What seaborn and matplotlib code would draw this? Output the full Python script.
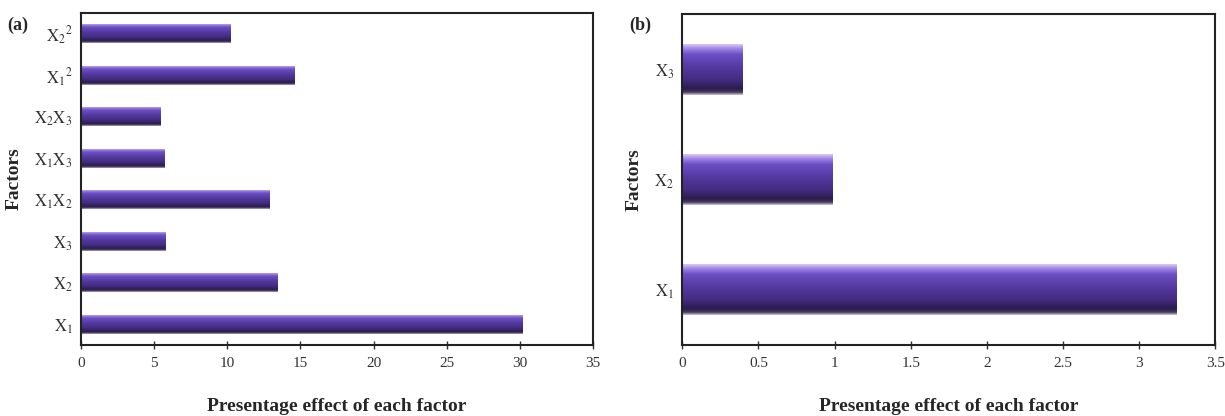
import numpy as np
import pandas as pd
import matplotlib
matplotlib.use("Agg")
import matplotlib.pyplot as plt
from matplotlib.colors import LinearSegmentedColormap
import seaborn as sns

# ---- data ----
factors_a = [r"$\mathrm{X_1}$", r"$\mathrm{X_2}$", r"$\mathrm{X_3}$", r"$\mathrm{X_1X_2}$",
             r"$\mathrm{X_1X_3}$", r"$\mathrm{X_2X_3}$", r"$\mathrm{X_1}^{2}$", r"$\mathrm{X_2}^{2}$"]
effect_a = [30.2, 13.4, 5.8, 12.9, 5.7, 5.4, 14.6, 10.2]
factors_b = [r"$\mathrm{X_1}$", r"$\mathrm{X_2}$", r"$\mathrm{X_3}$"]
effect_b = [3.25, 0.99, 0.40]
xticks_a = [0, 5, 10, 15, 20, 25, 30, 35]
xticks_b = [0, 0.5, 1, 1.5, 2, 2.5, 3, 3.5]
xlabel = "Presentage effect of each factor"
ylabel = "Factors"

sns.set_theme(style="white")
plt.rcParams["font.family"] = ["Liberation Serif", "DejaVu Serif"]
plt.rcParams["mathtext.fontset"] = "stix"

fig = plt.figure(figsize=(12.25, 4.16), dpi=100)
ax_a = fig.add_axes([0.0661, 0.171, 0.418, 0.798])
ax_b = fig.add_axes([0.557, 0.171, 0.435, 0.795])

grad_cmap = LinearSegmentedColormap.from_list(
    "bar", [(0.0, "#d9ccf6"), (0.08, "#a58ae8"), (0.2, "#6d4fc6"), (0.45, "#54399f"),
            (0.7, "#432c80"), (0.88, "#2b1b4d"), (0.95, "#4a3e60"), (1.0, "#d8d2e2")])


def draw(ax, cats, vals, ticks):
    df = pd.DataFrame({"factor": cats, "effect": vals})
    sns.barplot(data=df, x="effect", y="factor", order=cats[::-1], orient="h",
                color="#4a3090", width=0.46, ax=ax, saturation=1)
    grad = np.linspace(0, 1, 256).reshape(-1, 1)
    for p in ax.patches:
        x0, y0 = p.get_x(), p.get_y()
        w, h = p.get_width(), p.get_height()
        p.set_facecolor("none")
        p.set_edgecolor("none")
        im = ax.imshow(grad, cmap=grad_cmap, aspect="auto",
                       extent=[x0, x0 + w, y0 + h, y0], interpolation="bicubic", zorder=2)
        im.set_clip_path(p)
    ax.set_xlim(ticks[0], ticks[-1])
    ax.set_ylim(len(cats) - 0.5, -0.5)
    ax.set_xticks(ticks)
    ax.set_xticklabels([f"{t:g}" for t in ticks], fontsize=11, color="#333333")
    ax.tick_params(axis="y", labelsize=12, labelcolor="#333333", length=0, pad=6)
    ax.tick_params(axis="x", direction="inout", length=6, width=1, color="#333333", bottom=True, pad=6)
    for s in ax.spines.values():
        s.set_visible(True)
        s.set_color("#222222")
        s.set_linewidth(1.5)
    ax.set_xlabel(xlabel, fontsize=14, fontweight="bold", labelpad=20)
    ax.set_ylabel(ylabel, fontsize=14, fontweight="bold", labelpad=8)
    ax.grid(False)


draw(ax_a, factors_a, effect_a, xticks_a)
draw(ax_b, factors_b, effect_b, xticks_b)

fig.text(18 / 1225, 1 - 25 / 416, "(a)", fontsize=13, fontweight="bold", ha="center", va="center")
fig.text(640 / 1225, 1 - 25 / 416, "(b)", fontsize=13, fontweight="bold", ha="center", va="center")

fig.savefig("out.png", dpi=100)
